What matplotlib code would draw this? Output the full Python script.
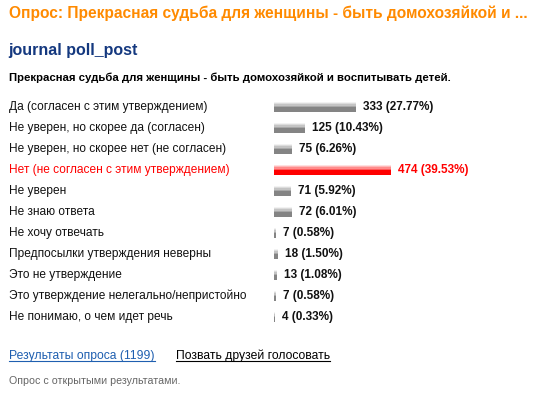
import matplotlib.pyplot as plt
from matplotlib.lines import Line2D

plt.rcParams['font.family'] = ['Liberation Sans', 'DejaVu Sans']

answers = [
    "Да (согласен с этим утверждением)",
    "Не уверен, но скорее да (согласен)",
    "Не уверен, но скорее нет (не согласен)",
    "Нет (не согласен с этим утверждением)",
    "Не уверен",
    "Не знаю ответа",
    "Не хочу отвечать",
    "Предпосылки утверждения неверны",
    "Это не утверждение",
    "Это утверждение нелегально/непристойно",
    "Не понимаю, о чем идет речь",
]
votes = [333, 125, 75, 474, 71, 72, 7, 18, 13, 7, 4]
percents = [27.77, 10.43, 6.26, 39.53, 5.92, 6.01, 0.58, 1.50, 1.08, 0.58, 0.33]
highlight = 3   # the red row
total_votes = 1199

W, H = 536, 393
fig = plt.figure(figsize=(W / 100, H / 100), dpi=100)
fig.patch.set_facecolor("white")

# bar area in pixel coords: x from 274 to right edge, rows centred 107..317
ax = fig.add_axes([274 / W, 1 - 327.5 / H, (W - 274) / W, 231 / H])
ax.set_xlim(0, (W - 274) / 0.246)
ax.set_ylim(len(votes) - 0.5, -0.5)
ax.axis("off")

rows = list(range(len(votes)))
bar_h = 0.48
for i in rows:
    red = i == highlight
    base = "#ff0000" if red else "#848484"
    ax.barh(i, votes[i], height=bar_h, color=base, linewidth=0)
    # glossy top half: few thin strips getting darker downwards
    shades = ["#ffe0e0", "#ffb8b8", "#ff8c8c", "#ff5a5a"] if red else \
             ["#f2f2f2", "#dcdcdc", "#c4c4c4", "#a8a8a8"]
    strip = bar_h / 2 / len(shades)
    for k, c in enumerate(shades):
        y = i - bar_h / 2 + strip * (k + 0.5)
        ax.barh(y, votes[i], height=strip, color=c, linewidth=0)
    ax.text(votes[i] + 7 / 0.246, i, f"{votes[i]} ({percents[i]:.2f}%)",
            va="center", ha="left", fontsize=8.5, fontweight="bold",
            color="#ff0000" if red else "#111111")

# answer labels on the left, aligned with the rows
for i in rows:
    y = 1 - (107 + 21 * i) / H
    fig.text(9 / W, y, answers[i], va="center", ha="left", fontsize=8.6,
             color="#ff0000" if i == highlight else "#111111")

fig.text(9 / W, 1 - 13 / H,
         "Опрос: Прекрасная судьба для женщины - быть домохозяйкой и ...",
         va="center", ha="left", fontsize=11.2, fontweight="bold", color="#ff8a00")
fig.text(8 / W, 1 - 50 / H, "journal poll_post", va="center", ha="left",
         fontsize=11.5, fontweight="bold", color="#14387f")
fig.text(9 / W, 1 - 78 / H,
         "Прекрасная судьба для женщины - быть домохозяйкой и воспитывать детей.",
         va="center", ha="left", fontsize=8.2, fontweight="bold", color="#000000")

link1 = fig.text(9 / W, 1 - 356 / H, f"Результаты опроса ({total_votes})",
                 va="center", ha="left", fontsize=8.7, color="#1f5fb0")
link2 = fig.text(176 / W, 1 - 356 / H, "Позвать друзей голосовать",
                 va="center", ha="left", fontsize=8.7, color="#000000")
fig.text(9 / W, 1 - 381 / H, "Опрос с открытыми результатами.",
         va="center", ha="left", fontsize=7.7, color="#666666")

# underline the two links
fig.canvas.draw()
renderer = fig.canvas.get_renderer()
for t in (link1, link2):
    bb = t.get_window_extent(renderer)
    y = (bb.y0 + 1) / H
    fig.add_artist(Line2D([bb.x0 / W, bb.x1 / W], [y, y], lw=0.8,
                          color=t.get_color(), transform=fig.transFigure))

fig.savefig("out.png", dpi=100)
